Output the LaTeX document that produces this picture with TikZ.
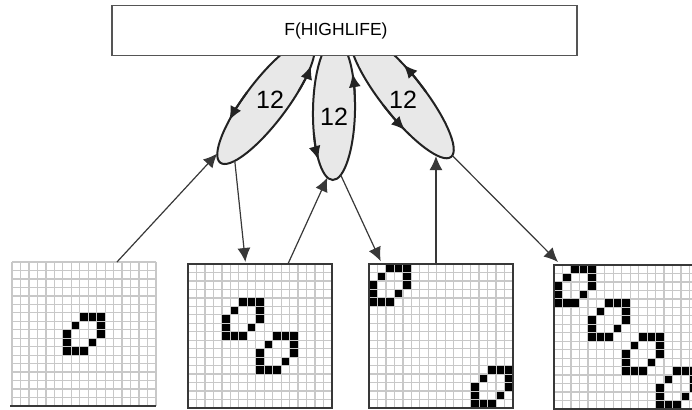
\documentclass[tikz,border=0pt]{standalone}
\usepackage{fontspec}
\setmainfont{Liberation Sans}
\usetikzlibrary{arrows.meta,calc}
\definecolor{gridgray}{HTML}{C8C8C8}
\definecolor{ellfill}{HTML}{E8E8E8}
\definecolor{inkdark}{HTML}{222222}
\definecolor{boxline}{HTML}{555555}
\def\cellsz{8.4706}
\newcommand{\lifegrid}[3]{%
  \fill[white] (#1,#2) rectangle ++(144,144);
  \foreach \i in {0,...,17}{
    \draw[gridline] ({#1+\i*\cellsz},#2) -- ++(0,144);
    \draw[gridline] (#1,{#2+\i*\cellsz}) -- ++(144,0);
  }
  \foreach \off in {#3}{
    \foreach \cx/\cy in {2/0,3/0,4/0,1/1,4/1,0/2,4/2,0/3,3/3,0/4,1/4,2/4}{
      \fill[black] ({#1+(\off+\cx)*\cellsz+0.45},{#2+(\off+\cy)*\cellsz+0.45}) rectangle ++(\cellsz-0.9,\cellsz-0.9);
    }
  }
}
\begin{document}
\begin{tikzpicture}[x=1pt,y=-1pt,
  gridline/.style={draw=gridgray,line width=1.3pt},
  gridnode/.style={minimum width=144pt,minimum height=144pt,inner sep=0pt,outer sep=0pt},
  border/.style={draw=inkdark!90,line width=1.5pt},
  ellshape/.style={fill=ellfill,draw=inkdark,line width=2pt},
  ringtip/.style={draw=inkdark,line width=2pt,-{Latex[length=14pt,width=12pt]}},
  conn/.style={draw=inkdark!90,line width=1.2pt,-{Latex[length=14pt,width=13pt]}},
  num/.style={font=\fontsize{25}{25}\selectfont,inner sep=0pt},
  topbox/.style={draw=boxline,fill=white,line width=1.2pt,minimum width=465pt,minimum height=50pt,inner sep=0pt}]
\useasboundingbox (0,0) rectangle (692,409);
\clip (0,0) rectangle (692,409);

% ellipses
\begin{scope}[shift={(266,102)},rotate=53]
  \path[ellshape] (0,0) ellipse (76pt and 21pt);
  \draw[ringtip] (93:76pt and 21pt) arc[start angle=93,end angle=119,x radius=76pt,y radius=21pt];
  \draw[ringtip] (292:76pt and 21pt) arc[start angle=292,end angle=318,x radius=76pt,y radius=21pt];
  \coordinate (e1in) at (158:76pt and 21pt);
  \coordinate (e1out) at (210:76pt and 21pt);
\end{scope}
\begin{scope}[shift={(334,110)},rotate=89]
  \path[ellshape] (0,0) ellipse (70pt and 21pt);
  \draw[ringtip] (110:70pt and 21pt) arc[start angle=110,end angle=136,x radius=70pt,y radius=21pt];
  \draw[ringtip] (277:70pt and 21pt) arc[start angle=277,end angle=302,x radius=70pt,y radius=21pt];
  \coordinate (e2in) at (165:70pt and 21pt);
  \coordinate (e2out) at (202:70pt and 21pt);
\end{scope}
\begin{scope}[shift={(402,95)},rotate=128.4]
  \path[ellshape] (0,0) ellipse (79pt and 21pt);
  \draw[ringtip] (87:79pt and 21pt) arc[start angle=87,end angle=112,x radius=79pt,y radius=21pt];
  \draw[ringtip] (261:79pt and 21pt) arc[start angle=261,end angle=287,x radius=79pt,y radius=21pt];
  \coordinate (e3in) at (153:79pt and 21pt);
  \coordinate (e3out) at (185:79pt and 21pt);
\end{scope}
\node[num] (n1) at (270,100) {12};
\node[num] (n2) at (334,117) {12};
\node[num] (n3) at (403,100) {12};

% top box
\node[topbox,label={[xshift=-8.5pt,font=\fontsize{17.5}{18}\selectfont]center:F(HIGHLIFE)}] (F) at (344.5,30.5) {};

% grids
\node[gridnode] (g1) at (84,334) {};
\node[gridnode] (g2) at (260,336) {};
\node[gridnode] (g3) at (441,336) {};
\node[gridnode] (g4) at (626,337) {};
\lifegrid{12}{262}{6}
\lifegrid{188}{264}{4,8}
\lifegrid{369}{264}{0,12}
\lifegrid{554}{265}{0,4,8,12}
\draw[border] ($(g1.south west)+(-2,0)$) -- (g1.south east);
\draw[border] (g2.south west) rectangle (g2.north east);
\draw[border] (g3.south west) rectangle (g3.north east);
\draw[border] (g4.south west) rectangle (g4.north east);

% connectors
\coordinate (g1a) at ($(g1.north west)!0.729!(g1.north east)$);
\draw[conn] (g1a) -- (e1in);
\coordinate (g2a) at ($(g2.north west)!0.40!(g2.north east)$);
\draw[conn,shorten >=2pt] (e1out) -- (g2a);
\coordinate (g2b) at ($(g2.north west)!0.694!(g2.north east)$);
\draw[conn] (g2b) -- (e2in);
\coordinate (g3a) at ($(g3.north west)!0.09!(g3.north east)$);
\draw[conn,shorten >=3pt] (e2out) -- (g3a);
\coordinate (g3b) at ($(g3.north west)!0.465!(g3.north east)$);
\draw[conn] (g3b) -- (g3b |- e3in);
\coordinate (g4a) at ($(g4.north west)+(4,-3)$);
\draw[conn] (e3out) -- (g4a);
\end{tikzpicture}
\end{document}
